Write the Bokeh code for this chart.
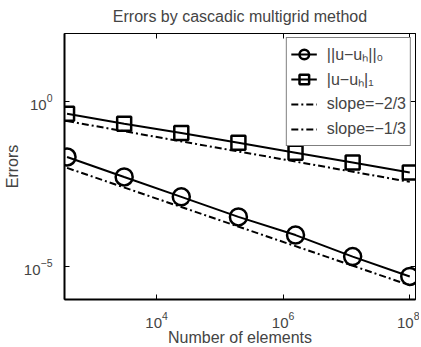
from bokeh.plotting import figure
from bokeh.models import FixedTicker, LogAxis, Legend, LegendItem, CustomJSTickFormatter
from bokeh.embed import file_html
from bokeh.resources import INLINE

# data
n_elements = [384, 3072, 24576, 196608, 1572864, 12582912, 100663296]
err_l2 = [0.021, 0.0052, 0.0013, 3.2e-4, 9.0e-5, 2.0e-5, 5.0e-6]
err_h1 = [0.43, 0.213, 0.112, 0.057, 0.0284, 0.0142, 0.0071]
ref_n = [384, 100663296]
ref_23 = [0.0098, 2.7e-6]
ref_13 = [0.258, 0.0037]
x_ticks = [1e4, 1e6, 1e8]
y_ticks = [1e-5, 1e0]

FONT = "Liberation Sans"

p = figure(frame_width=351, frame_height=266, x_axis_type="log", y_axis_type="log",
           x_range=(350, 1.24e8), y_range=(1e-6, 117),
           output_backend="svg", toolbar_location=None,
           min_border_left=61, min_border_right=4, min_border_top=23, min_border_bottom=49)
p.title.text = "Errors by cascadic multigrid method"
p.title.align = "center"
p.title.text_font = FONT
p.title.text_font_style = "normal"
p.title.text_font_size = "16px"
p.title.standoff = 10
p.grid.visible = False
p.outline_line_color = "black"
p.outline_line_width = 1
p.background_fill_color = "white"
p.border_fill_color = "white"

for ax in (p.xaxis[0], p.yaxis[0]):
    ax.major_tick_in = 5
    ax.major_tick_out = 0
    ax.minor_tick_in = 0
    ax.minor_tick_out = 0
    ax.axis_line_width = 2
    ax.major_tick_line_width = 1
    ax.major_label_text_font = FONT
    ax.major_label_text_font_size = "15px"
    ax.axis_label_text_font = FONT
    ax.axis_label_text_font_size = "16px"
    ax.axis_label_text_font_style = "normal"

p.xaxis.ticker = FixedTicker(ticks=x_ticks, minor_ticks=[])
p.yaxis.ticker = FixedTicker(ticks=y_ticks, minor_ticks=[])
p.xaxis.axis_label = "Number of elements"
p.yaxis.axis_label = "Errors"
p.xaxis.axis_label_standoff = -2
p.yaxis.axis_label_standoff = 0
p.xaxis.major_label_standoff = 12
p.yaxis.major_label_standoff = 12

blank = CustomJSTickFormatter(code="return ' ';")
top = LogAxis(ticker=FixedTicker(ticks=x_ticks, minor_ticks=[]), formatter=blank,
              major_tick_in=5, major_tick_out=0, minor_tick_in=0, minor_tick_out=0,
              major_label_text_font_size="1px", major_label_standoff=0)
right = LogAxis(ticker=FixedTicker(ticks=y_ticks, minor_ticks=[]), formatter=blank,
                major_tick_in=5, major_tick_out=0, minor_tick_in=0, minor_tick_out=0,
                major_label_text_font_size="1px", major_label_standoff=0)
p.add_layout(top, "above")
p.add_layout(right, "right")

l1 = p.line(n_elements, err_l2, line_color="black", line_width=2)
s1 = p.scatter(n_elements, err_l2, marker="circle", size=17, fill_color=None,
               line_color="black", line_width=2.5)
l2 = p.line(n_elements, err_h1, line_color="black", line_width=2)
s2 = p.scatter(n_elements, err_h1, marker="square", size=14, fill_color=None,
               line_color="black", line_width=2.5)
r1 = p.line(ref_n, ref_23, line_color="black", line_width=2, line_dash="7 3 2 3")
r2 = p.line(ref_n, ref_13, line_color="black", line_width=2, line_dash="7 3 2 3")

legend = Legend(items=[
    LegendItem(label="||u\u2212u\u2095||\u2080", renderers=[l1, s1]),
    LegendItem(label="|u\u2212u\u2095|\u2081", renderers=[l2, s2]),
    LegendItem(label="slope=\u22122/3", renderers=[r1]),
    LegendItem(label="slope=\u22121/3", renderers=[r2]),
], location="top_right")
legend.border_line_color = "black"
legend.border_line_width = 1.5
legend.margin = 4
legend.padding = 4
legend.spacing = 1
legend.glyph_width = 26
legend.glyph_height = 24
legend.label_height = 24
legend.label_standoff = 10
legend.label_text_font = FONT
legend.label_text_font_size = "16px"
legend.background_fill_alpha = 1
p.add_layout(legend, "center")

open("out.html", "w").write(file_html(p, INLINE))
